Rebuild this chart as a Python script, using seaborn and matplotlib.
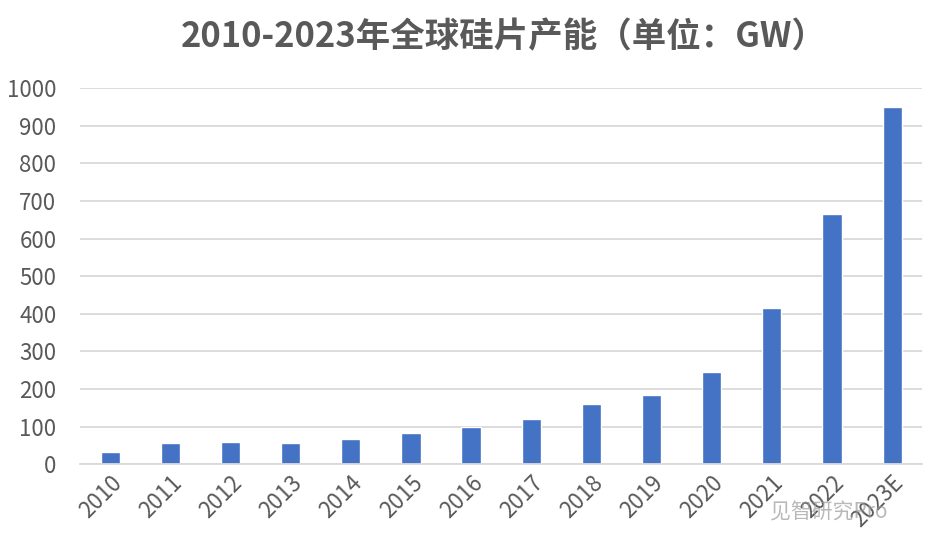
import matplotlib
matplotlib.use("Agg")
import matplotlib.pyplot as plt
import seaborn as sns
import pandas as pd

years = ["2010", "2011", "2012", "2013", "2014", "2015", "2016", "2017",
         "2018", "2019", "2020", "2021", "2022", "2023E"]
capacity = [33, 57, 60, 57, 68, 84, 100, 120, 160, 184, 246, 415, 665, 950]
yticks = [0, 100, 200, 300, 400, 500, 600, 700, 800, 900, 1000]
title = "2010-2023年全球硅片产能（单位：GW）"

df = pd.DataFrame({"year": years, "capacity": capacity})

sns.set_theme(style="white")
plt.rcParams['font.family'] = ['Noto Sans CJK SC', 'DejaVu Sans']

fig = plt.figure(figsize=(9.42, 5.48), dpi=100)
ax = fig.add_axes([0.085, 0.153, 0.894, 0.686])

sns.barplot(data=df, x="year", y="capacity", color="#4472C4", width=0.32,
            saturation=1, ax=ax)

ax.set_ylim(0, 1000)
ax.set_xlim(-0.5, len(years) - 0.5)
ax.set_yticks(yticks)
ax.set_yticklabels([str(v) for v in yticks], fontsize=16, color="#595959")
ax.set_xticks(range(len(years)))
ax.set_xticklabels(years, rotation=45, ha="right", rotation_mode="anchor",
                   fontsize=16, color="#595959")
ax.tick_params(axis="x", length=0, pad=5)
ax.tick_params(axis="y", length=0, pad=17)
ax.yaxis.grid(True, color="#D9D9D9", linewidth=1.3)
ax.set_axisbelow(True)
for s in ["top", "right", "left"]:
    ax.spines[s].set_visible(False)
ax.spines["bottom"].set_color("#D9D9D9")
ax.spines["bottom"].set_linewidth(1.3)
ax.set_xlabel("")
ax.set_ylabel("")

fig.text(0.535, 0.932, title, ha="center", va="center", fontsize=24.8,
         fontweight="bold", color="#595959")

fig.text(0.88, 0.065, "见智研究Pro", ha="center", va="center", fontsize=15,
         color="#9a9a9a", alpha=0.7)

fig.savefig("out.png", dpi=100)
